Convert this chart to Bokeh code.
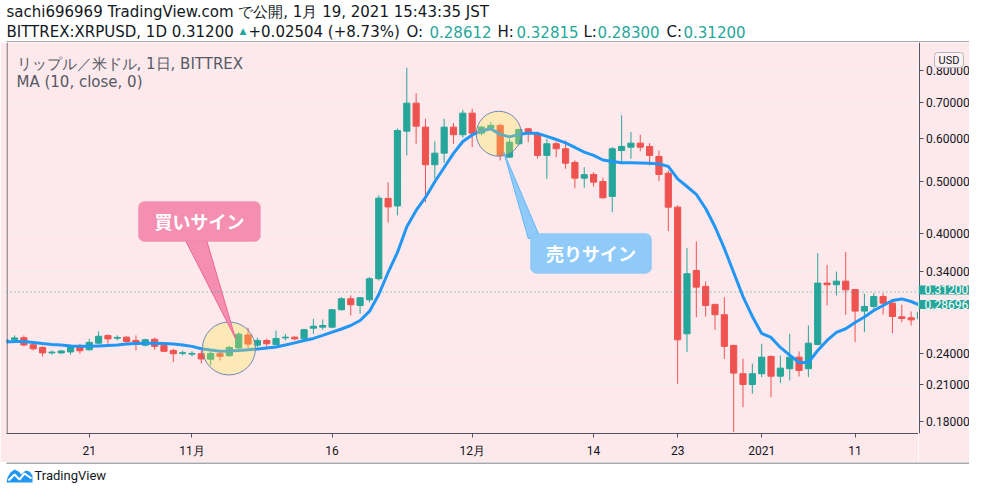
import pandas as pd
from bokeh.plotting import figure
from bokeh.models import (Range1d, ColumnDataSource, FixedTicker, PrintfTickFormatter,
                          Label, BoxAnnotation, Span, Grid)
from bokeh.layouts import column, row
from bokeh.embed import file_html
from bokeh.resources import INLINE

# ---------------- data ----------------
dates = list(pd.date_range("2020-10-12", "2021-01-19", freq="D"))

opens = [0.2533, 0.2549, 0.2568, 0.2492, 0.2464, 0.2407, 0.2407, 0.2417, 0.2477, 0.2439,
         0.2509, 0.2591, 0.2562, 0.2574, 0.2538, 0.2488, 0.2551, 0.2483, 0.2432, 0.2402,
         0.2394, 0.2399, 0.2344, 0.2399, 0.2378, 0.2459, 0.2598, 0.2488, 0.2538, 0.2494,
         0.2566, 0.2574, 0.2557, 0.2674, 0.2686, 0.2686, 0.2893, 0.3031, 0.2946, 0.3018,
         0.3301, 0.4646, 0.4500, 0.6187, 0.6971, 0.6294, 0.5363, 0.5634, 0.6294, 0.6094,
         0.6680, 0.6135, 0.6268, 0.6340, 0.5539, 0.5864, 0.6249, 0.6120, 0.5580, 0.5864,
         0.5740, 0.5415, 0.5065, 0.5145, 0.4994, 0.4686, 0.5698, 0.5780, 0.5879, 0.5797,
         0.5555, 0.5173, 0.4477, 0.2611, 0.3419, 0.3195, 0.2959, 0.2832, 0.2485, 0.2203,
         0.2104, 0.2203, 0.2371, 0.2180, 0.2250, 0.2364, 0.2250, 0.2496, 0.3240, 0.3218,
         0.3267, 0.3153, 0.2876, 0.2934, 0.3060, 0.2975, 0.2807, 0.2795, 0.2783, 0.28612]
highs = [0.2571, 0.2593, 0.2593, 0.2503, 0.2475, 0.2432, 0.2437, 0.2496, 0.2503, 0.2556,
         0.2637, 0.2604, 0.2593, 0.2582, 0.2593, 0.2556, 0.2568, 0.2496, 0.2450, 0.2432,
         0.2425, 0.2432, 0.2422, 0.2415, 0.2480, 0.2629, 0.2680, 0.2568, 0.2556, 0.2648,
         0.2611, 0.2582, 0.2668, 0.2783, 0.2775, 0.2905, 0.3052, 0.3074, 0.3052, 0.3324,
         0.4706, 0.4979, 0.6258, 0.8104, 0.7274, 0.6521, 0.5921, 0.6521, 0.6402, 0.6776,
         0.6806, 0.6332, 0.6429, 0.6386, 0.5990, 0.6249, 0.6265, 0.6179, 0.5990, 0.5921,
         0.5946, 0.5461, 0.5308, 0.5195, 0.5074, 0.5780, 0.6615, 0.6161, 0.6094, 0.5879,
         0.5698, 0.5233, 0.4510, 0.3760, 0.3869, 0.3263, 0.2967, 0.3052, 0.2492, 0.2347,
         0.2299, 0.2503, 0.2381, 0.2381, 0.2611, 0.2422, 0.2705, 0.3681, 0.3503, 0.3405,
         0.3697, 0.3162, 0.3096, 0.3104, 0.3104, 0.3000, 0.2955, 0.2872, 0.2926, 0.32815]
lows = [0.2506, 0.2509, 0.2475, 0.2432, 0.2371, 0.2389, 0.2397, 0.2389, 0.2399, 0.2432,
        0.2503, 0.2503, 0.2538, 0.2513, 0.2432, 0.2475, 0.2439, 0.2415, 0.2315, 0.2381,
        0.2371, 0.2302, 0.2282, 0.2331, 0.2371, 0.2448, 0.2450, 0.2467, 0.2467, 0.2485,
        0.2538, 0.2538, 0.2538, 0.2611, 0.2656, 0.2674, 0.2884, 0.2823, 0.2844, 0.2987,
        0.3277, 0.4194, 0.4322, 0.5580, 0.5864, 0.4573, 0.5052, 0.5409, 0.5864, 0.6016,
        0.5780, 0.6076, 0.6223, 0.5461, 0.5525, 0.5822, 0.5904, 0.5501, 0.5052, 0.5539,
        0.5271, 0.4853, 0.4861, 0.4888, 0.4640, 0.4382, 0.5385, 0.5501, 0.5681, 0.5347,
        0.5000, 0.4042, 0.2111, 0.2415, 0.2803, 0.2811, 0.2656, 0.2347, 0.1717, 0.1911,
        0.2023, 0.2171, 0.1994, 0.2117, 0.2141, 0.2177, 0.2171, 0.2485, 0.2946, 0.3074,
        0.2832, 0.2520, 0.2629, 0.2905, 0.2835, 0.2618, 0.2743, 0.2705, 0.2705, 0.28300]
closes = [0.2544, 0.2566, 0.2490, 0.2450, 0.2407, 0.2415, 0.2427, 0.2472, 0.2429, 0.2517,
          0.2584, 0.2555, 0.2571, 0.2527, 0.2496, 0.2546, 0.2475, 0.2424, 0.2399, 0.2409,
          0.2402, 0.2346, 0.2402, 0.2373, 0.2464, 0.2607, 0.2499, 0.2538, 0.2503, 0.2560,
          0.2574, 0.2555, 0.2657, 0.2697, 0.2705, 0.2893, 0.3031, 0.2955, 0.3044, 0.3301,
          0.4652, 0.4481, 0.6205, 0.6971, 0.6321, 0.5363, 0.5634, 0.6294, 0.6094, 0.6680,
          0.6135, 0.6294, 0.6340, 0.5580, 0.5904, 0.6231, 0.6120, 0.5580, 0.5864, 0.5740,
          0.5399, 0.5065, 0.5141, 0.4980, 0.4660, 0.5740, 0.5797, 0.5879, 0.5780, 0.5580,
          0.5145, 0.4477, 0.2545, 0.3372, 0.3185, 0.2946, 0.2832, 0.2475, 0.2209, 0.2104,
          0.2203, 0.2364, 0.2180, 0.2256, 0.2364, 0.2234, 0.2509, 0.3240, 0.3218, 0.3267,
          0.3149, 0.2876, 0.2934, 0.3060, 0.2975, 0.2811, 0.2787, 0.2771, 0.28612, 0.31200]
# MA(10, close) line as drawn (one value per day, Oct 12 .. Jan 18)
ma10 = [0.2520, 0.2527, 0.2527, 0.2517, 0.2506, 0.2496, 0.2490, 0.2480, 0.2475, 0.2475,
        0.2480, 0.2485, 0.2490, 0.2501, 0.2506, 0.2509, 0.2509, 0.2506, 0.2501, 0.2490,
        0.2475, 0.2450, 0.2437, 0.2425, 0.2427, 0.2432, 0.2439, 0.2448, 0.2459, 0.2469,
        0.2490, 0.2512, 0.2538, 0.2560, 0.2593, 0.2629, 0.2665, 0.2705, 0.2763, 0.2872,
        0.3087, 0.3390, 0.3692, 0.4119, 0.4414, 0.4666, 0.4987, 0.5301, 0.5627, 0.5921,
        0.6089, 0.6192, 0.6249, 0.6102, 0.6037, 0.6102, 0.6141, 0.6128, 0.6050, 0.5972,
        0.5884, 0.5772, 0.5658, 0.5580, 0.5472, 0.5438, 0.5409, 0.5409, 0.5404, 0.5399,
        0.5381, 0.5325, 0.5048, 0.4888, 0.4726, 0.4452, 0.4119, 0.3755, 0.3390, 0.3060,
        0.2811, 0.2615, 0.2571, 0.2464, 0.2384, 0.2311, 0.2311, 0.2432, 0.2538, 0.2626,
        0.2668, 0.2740, 0.2805, 0.2884, 0.2946, 0.3009, 0.3029, 0.2996, 0.2946]

last_price = 0.31200
second_tag = 0.28696
y_ticks = [0.18, 0.21, 0.24, 0.34, 0.40, 0.50, 0.60, 0.70, 0.80]
x_tick_dates = ["2020-10-21", "2020-11-01", "2020-11-16", "2020-12-01",
                "2020-12-14", "2020-12-23", "2021-01-01", "2021-01-11"]
x_tick_labels = ["21", "11月", "16", "12月", "14", "23", "2021", "11"]

# ---------------- helpers ----------------
DAY = 86400000.0


def ms(t):
    return pd.Timestamp(t).value / 1e6


T0 = ms(dates[0])


def dx(d):
    return T0 + d * DAY


UP = "#26A69A"
DOWN = "#EF5350"
PINK_BG = "#FDE8EC"
BORDER = "#50535E"
TXT = "#131722"
HF = "DejaVu Sans"
W = 969
MAIN_W = 918
SCALE_W = W - MAIN_W

# ---------------- header ----------------
hdr = figure(width=W, height=42, x_range=Range1d(0, W), y_range=Range1d(42, 0),
             toolbar_location=None, output_backend="svg", min_border=0,
             x_axis_location=None, y_axis_location=None,
             background_fill_color="white", border_fill_color="white",
             outline_line_color=None)
hdr.grid.visible = False
hdr.segment(x0=[6], y0=[41.5], x1=[W], y1=[41.5], line_color=BORDER, line_width=1)


def htext(x, y, t, color=TXT, size="15px"):
    hdr.add_layout(Label(x=x, y=y, text=t, text_font=HF, text_font_size=size,
                         text_color=color, text_baseline="middle", text_align="left"))


htext(6, 11, "sachi696969 TradingView.com で公開, 1月 19, 2021 15:43:35 JST")
htext(6, 31, "BITTREX:XRPUSD, 1D 0.31200")
htext(239, 30, "▲", UP, "9px")
htext(248, 31, "+0.02504 (+8.73%)")
htext(406, 31, "O:")
htext(429, 31, "0.28612", UP)
htext(497, 31, "H:")
htext(516, 31, "0.32815", UP)
htext(583, 31, "L:")
htext(597, 31, "0.28300", UP)
htext(666, 31, "C:")
htext(683, 31, "0.31200", UP)

# ---------------- main chart ----------------
x0d, x1d = 0.139, 97.79
yr = Range1d(0.1708, 0.9024)
p = figure(width=MAIN_W, height=420, x_axis_type="datetime", y_axis_type="log",
           y_axis_location=None,
           x_range=Range1d(dx(x0d), dx(x1d)), y_range=yr,
           toolbar_location=None, output_backend="svg",
           min_border_left=6, min_border_right=0, min_border_top=0, min_border_bottom=29,
           background_fill_color=PINK_BG, border_fill_color=PINK_BG,
           outline_line_color=None)
p.center = [c for c in p.center if not isinstance(c, Grid)]

tick_ms = [ms(t) for t in x_tick_dates]
xa = p.xaxis[0]
xa.ticker = FixedTicker(ticks=tick_ms, minor_ticks=[])
xa.major_label_overrides = {k: v for k, v in zip(tick_ms, x_tick_labels)}
xa.axis_line_color = BORDER
xa.major_tick_line_color = BORDER
xa.minor_tick_line_color = None
xa.major_tick_in = 0
xa.major_tick_out = 4
xa.major_label_text_font = "Roboto"
xa.major_label_text_font_size = "12px"
xa.major_label_text_color = TXT
xa.major_label_standoff = 6

p.add_layout(Grid(dimension=1, ticker=FixedTicker(ticks=y_ticks),
                  grid_line_color="#F7F0F3", grid_line_width=1))
p.add_layout(Span(location=dx(x0d + 0.06), dimension="height", line_color=BORDER,
                  line_width=1))

src = ColumnDataSource(dict(
    date=[ms(d) for d in dates],
    open=opens, high=highs, low=lows, close=closes,
    top=[max(o, c) for o, c in zip(opens, closes)],
    bottom=[min(o, c) for o, c in zip(opens, closes)],
    color=[UP if c >= o else DOWN for o, c in zip(opens, closes)],
))
p.segment(x0="date", y0="high", x1="date", y1="low", line_color="color",
          line_width=1, source=src)
p.vbar(x="date", width=0.66 * DAY, top="top", bottom="bottom",
       fill_color="color", line_color="color", line_width=1, source=src)

p.line(x=[ms(d) for d in dates[:len(ma10)]], y=ma10, line_color="#2196F3", line_width=3)

p.add_layout(Span(location=last_price, dimension="width", line_color=UP,
                  line_dash="1 3", line_width=1))

# highlight circles (drawings)
circ = ColumnDataSource(dict(x=[dx(23.96), dx(52.85)], y=[0.2453, 0.6119], s=[53, 45]))
p.scatter(x="x", y="y", size="s", source=circ, fill_color="#FFEB3B", fill_alpha=0.3,
          line_color="#6F87B5", line_width=1)

# callout pointers
p.patch(x=[dx(19.09), dx(21.45), dx(24.66)], y=[0.395, 0.395, 0.2560],
        fill_color="#F48FB1", line_color="#F06292", line_width=1)
p.patch(x=[dx(53.38), dx(56.0), dx(57.31)], y=[0.5658, 0.392, 0.392],
        fill_color="#90CAF9", line_color="#64B5F6", line_width=1)

p.add_layout(BoxAnnotation(left=dx(14.27), right=dx(27.33), top=0.4587, bottom=0.3869,
                           fill_color="#F48FB1", fill_alpha=1.0, line_color="#EE7AA3",
                           line_width=1, border_radius=6))
p.add_layout(BoxAnnotation(left=dx(56.24), right=dx(69.2), top=0.4003, bottom=0.3377,
                           fill_color="#90CAF9", fill_alpha=1.0, line_color="#74B9F3",
                           line_width=1, border_radius=6))
p.add_layout(Label(x=dx(20.8), y=0.4212, text="買いサイン", text_align="center",
                   text_baseline="middle", text_color="white", text_font="Noto Sans CJK JP",
                   text_font_size="18px", text_font_style="bold"))
p.add_layout(Label(x=dx(62.72), y=0.3676, text="売りサイン", text_align="center",
                   text_baseline="middle", text_color="white", text_font="Noto Sans CJK JP",
                   text_font_size="18px", text_font_style="bold"))

# pane legend
p.add_layout(Label(x=10, y=369.7, x_units="screen", y_units="screen",
                   text="リップル／米ドル, 1日, BITTREX", text_font=HF, text_font_size="15px",
                   text_color="#555A64", text_baseline="middle"))
p.add_layout(Label(x=10, y=352, x_units="screen", y_units="screen",
                   text="MA (10, close, 0)", text_font=HF, text_font_size="15px",
                   text_color="#555A64", text_baseline="middle"))

# ---------------- price scale (right) ----------------
rp = figure(width=SCALE_W, height=420, y_axis_type="log", y_axis_location="right",
            x_axis_location=None, x_range=Range1d(0, SCALE_W), y_range=yr,
            toolbar_location=None, output_backend="svg",
            min_border_left=0, min_border_right=0, min_border_top=0, min_border_bottom=29,
            background_fill_color=PINK_BG, border_fill_color=PINK_BG,
            outline_line_color=None)
rp.grid.visible = False
ya = rp.yaxis[0]
ya.fixed_location = 0.5
ya.ticker = FixedTicker(ticks=y_ticks, minor_ticks=[])
ya.formatter = PrintfTickFormatter(format="%.5f")
ya.axis_line_color = BORDER
ya.major_tick_line_color = BORDER
ya.minor_tick_line_color = None
ya.major_tick_in = 0
ya.major_tick_out = 4
ya.major_label_standoff = 3
ya.major_label_text_font = "Roboto"
ya.major_label_text_font_size = "12px"
ya.major_label_text_color = TXT

for val, off in ((last_price, 2), (second_tag, 7)):
    rp.add_layout(Label(x=0, y=val, x_units="screen", y_offset=off, text="%.5f" % val,
                        text_align="left", text_baseline="middle", text_color="white",
                        text_font="Roboto", text_font_size="12px", background_fill_color=UP,
                        padding=dict(left=6, right=1, top=0, bottom=0)))
rp.add_layout(Label(x=30.5, y=373.5, x_units="screen", y_units="screen", text="USD",
                    text_align="center", text_baseline="middle", text_color=TXT,
                    text_font="Roboto", text_font_size="11px",
                    background_fill_color="#FDF1F4", border_line_color="#B2B5BE",
                    padding=dict(left=4, right=4, top=1, bottom=1), border_radius=3))

# ---------------- footer ----------------
ftr = figure(width=W, height=22, x_range=Range1d(0, W), y_range=Range1d(22, 0),
             toolbar_location=None, output_backend="svg", min_border=0,
             x_axis_location=None, y_axis_location=None,
             background_fill_color="white", border_fill_color="white",
             outline_line_color=None)
ftr.grid.visible = False
ftr.segment(x0=[6], y0=[0.5], x1=[W], y1=[0.5], line_color=BORDER, line_width=1)
ftr.patch(x=[6, 7, 10, 14, 18, 21, 25, 29, 32, 32, 6],
          y=[20, 15, 10, 7, 9, 12, 8, 9, 13, 20, 20],
          fill_color="#2196F3", line_color=None)
ftr.line(x=[8, 14, 19, 24, 31], y=[18, 12, 17, 11, 16], line_color="white", line_width=2)
ftr.add_layout(Label(x=34, y=13, text="TradingView", text_font="Roboto",
                     text_font_size="13px", text_color=TXT, text_baseline="middle"))

layout = column(hdr, row(p, rp, spacing=0), ftr, spacing=0)
open("out.html", "w").write(file_html(layout, INLINE))
